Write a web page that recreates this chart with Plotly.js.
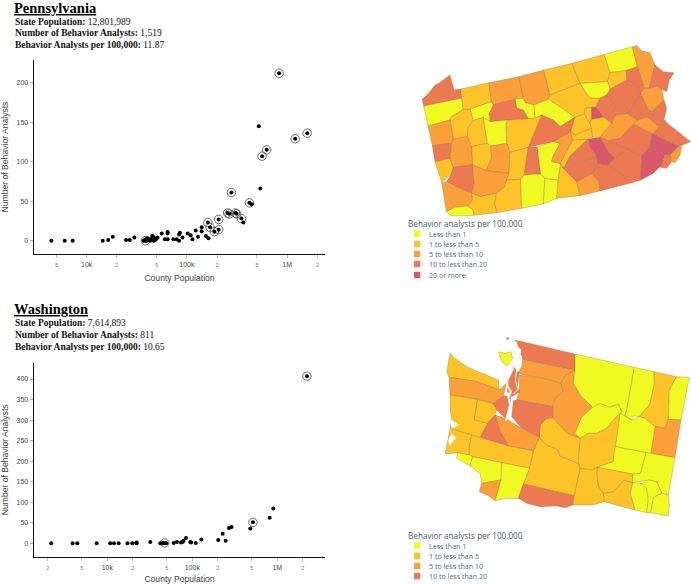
<!DOCTYPE html>
<html><head><meta charset="utf-8">
<script src="https://cdn.plot.ly/plotly-3.0.1.min.js"></script>
<style>html,body{margin:0;padding:0;background:#fff}#c{width:691px;height:584px}</style>
</head><body><div id="c"></div>
<script>
// ---------- scatter data ----------
const paPop=[4440,6030,7250,14440,16400,18200,24700,26900,29900,
37000,38000,38500,39000,39500,40000,40500,41000,42000,43000,44000,44500,45000,46000,46500,47000,48000,49000,50000,51000,
56100,60300,64200,64200,64200,73300,79100,83500,85000,83500,90200,102000,109000,113500,122500,129000,140500,140500,155000,164000,
162000,170000,188000,207500,207500,255000,265000,278000,305000,314000,350000,366000,420000,444000,521000,540000,562000,625000,832000,1203000,1585000];
const paCount=[0,0,0,0,1,5,1,1,4,
0,1,0,2,1,0,3,1,2,0,2,1,6,5,0,3,1,2,3,4,
9,2,9,11,2,2,2,8,10,0,4,9,7,2,13,5,12,17,6,3,
23,17,11.5,14,27,35,34,61,35,34,28,23,48,46,145,66,107,115,212,129,136];
const paRingPop=[38500,162000,170000,188000,207500,207500,255000,265000,278000,305000,314000,350000,420000,562000,625000,832000,1203000,1585000];
const paRingCount=[0,23,17,11.5,14,27,35,34,61,35,34,28,48,107,115,212,129,136];
const waPop=[2190,3910,4440,7500,10840,12000,13600,17300,19700,22100,22100,32100,42100,44400,46000,47300,49400,60300,66000,73600,77000,79000,84200,94700,97000,109800,127700,202000,227500,246800,270000,290000,481000,517000,813000,897000,2234000];
const waCount=[0,0,0,0,0,0,0,0,0,0,2,3,0,0,1,1,0,1,3,2,3,6,13,3,2,1,9,8,23,6,37,40,36,51,62,85,407];
const waRingPop=[47300,517000,2234000];
const waRingCount=[1,51,407];
const paXTicks=[5000,10000,20000,50000,100000,200000,500000,1000000,2000000];
const waXTicks=[2000,5000,10000,20000,50000,100000,200000,500000,1000000,2000000];
const paXMajor=['5','10k','2','5','100k','2','5','1M','2'];
const waXMajor=['2','5','10k','2','5','100k','2','5','1M','2'];
const paYTicks=[0,50,100,150,200];
const waYTicks=[0,50,100,150,200,250,300,350,400];
const legendLabels=['Less than 1','1 to less than 5','5 to less than 10','10 to less than 20','20 or more'];
const classColors=['#f0f921','#fdc328','#fb9f3a','#ed7953','#d8576b'];

// ---------- county polygons: [rate class, x,y, x,y, ...] in map units ----------
const paCounties=[
[3,66,208,84,192,105,165,116,160,150,135,162,180,182,177,185,205,71,228],
[0,71,228,185,205,190,238,152,262,150,270,84,288],
[1,182,177,267,158,274,215,210,238,190,238,185,205],
[2,267,158,357,140,370,205,345,207,280,225,274,215],
[2,357,140,431,120,450,195,445,208,402,225,375,218,370,205],
[1,431,120,516,100,540,160,450,195],
[1,516,100,613,73,630,128,623,155,540,160],
[0,613,73,697,50,712,110,678,122,630,128],
[2,697,50,710,47,725,62,750,68,765,105,748,175,733,175,712,110],
[3,765,105,790,125,822,128,808,150,800,185,785,178,770,168,748,175],
[3,678,122,712,110,733,175,722,190,703,160,680,150],
[1,630,128,678,122,680,150,630,178,623,155],
[0,540,160,623,155,630,178,620,195,600,205,570,205,555,185],
[1,450,195,540,160,555,185,570,205,600,205,588,232,575,232,555,235,553,252,525,262,468,222,445,208],
[0,345,207,370,205,375,218,402,225,405,265,385,267,370,240,350,235],
[0,402,225,445,208,468,222,525,262,480,290,460,270,425,255,405,265],
[3,280,225,345,207,350,235,370,240,385,267,322,270,270,275,267,250],
[0,210,238,274,215,280,225,267,250,270,275,250,262,220,272],
[1,152,262,190,238,210,238,220,272,205,292,202,320,160,327,150,270],
[2,84,288,150,270,160,327,155,340,97,347],
[3,97,347,155,340,150,385,105,396],
[1,105,396,150,385,160,412,155,430,125,458],
[2,155,340,160,327,202,320,215,350,218,405,160,412,150,385],
[1,205,292,220,272,250,262,262,340,215,350,202,320],
[0,250,262,270,275,322,270,318,285,320,340,272,348,262,340],
[1,322,270,385,267,405,265,425,255,412,288,385,352,330,367,320,340,318,285],
[3,412,288,425,255,460,270,480,290,525,262,512,305,505,310,460,335,385,352],
[1,215,350,262,340,272,348,275,385,258,422,218,405],
[2,272,348,320,340,330,367,327,430,258,422,275,385],
[3,160,412,218,405,222,460,215,490,180,475,140,455,155,430],
[2,218,405,258,422,327,430,315,470,290,490,240,500,215,490,222,460],
[2,125,458,140,455,180,475,215,490,218,510,204,528,164,532,139,545],
[0,139,545,164,532,204,528,219,540,222,556,152,558],
[1,218,510,215,490,240,500,290,490,284,520,291,548,222,556,219,540,204,528],
[1,330,367,385,352,372,435,362,448,320,450,327,430],
[1,290,490,315,470,320,450,362,448,365,535,291,548,284,520],
[0,372,435,395,432,422,432,435,445,430,522,365,535,362,448],
[0,435,445,475,450,470,505,430,522],
[3,385,352,412,350,418,400,422,432,395,432,372,435],
[0,412,350,460,335,480,340,460,378,455,395,482,400,475,450,435,445,422,432,418,400],
[2,460,378,480,340,460,335,505,310,512,305,518,330,482,400,455,395],
[1,482,400,518,330,565,327,510,378,495,408,487,412],
[1,487,412,530,455,540,497,470,505,475,450,482,400],
[2,530,455,575,430,597,455,600,483,540,497],
[3,575,430,595,400,625,405,655,425,695,458,600,483,597,455],
[3,487,412,525,400,590,378,595,400,575,430,530,455],
[3,495,408,510,378,565,327,570,350,590,378,525,400],
[4,565,327,600,322,625,365,645,385,625,405,595,400,590,378,570,350],
[3,625,405,645,385,680,355,725,378,722,450,695,458,655,425],
[1,525,262,553,252,570,280,575,295,525,315,512,305],
[1,512,305,525,315,575,295,578,322,565,327,518,330],
[1,555,235,575,232,575,268,570,280,553,252],
[4,575,232,588,232,612,262,575,268],
[3,600,205,620,195,650,230,640,245,645,255,635,280,612,262,588,232],
[1,575,268,612,262,635,280,600,322,578,322,575,295,570,280],
[2,600,322,635,280,645,255,682,250,712,270,700,283,660,325,625,332],
[3,620,195,630,178,680,150,703,160,722,190,690,245,682,250,645,255,640,245,650,230],
[3,682,250,690,245,722,190,745,240,712,270],
[2,712,270,740,260,778,290,757,312,700,283],
[3,757,312,778,290,800,278,872,335,835,350],
[3,625,332,660,325,700,283,757,312,750,350,725,378,680,355],
[3,600,322,625,332,680,355,645,385,625,365],
[2,722,190,733,175,748,175,770,168,785,178,792,210,757,245,745,240],
[3,745,240,757,245,792,210,800,235,792,268,800,278,778,290,740,260,712,270],
[4,757,312,835,350,810,375,795,372,750,350],
[4,722,450,725,378,750,350,795,372,785,405,760,430],
[3,795,372,810,375,815,395,800,415,780,412,785,405],
[2,835,350,845,350,840,375,825,398,815,395,810,375]
];
const waCounties=[
[3,345,30,525,72,525,120,450,105,370,90,360,85,365,60,350,45],
[0,295,65,315,70,333,65,338,85,322,108,308,98,300,82],
[3,320,23,326,23,326,28,320,28],
[2,362,90,450,105,525,120,495,138,483,160,430,145,370,135,355,128,365,110],
[2,358,135,430,145,483,160,490,185,465,205,458,230,350,210,358,185],
[2,483,160,495,138,525,120,520,160,545,200,578,232,545,262,525,310,540,325,500,310,458,262,458,230,465,205,490,185],
[0,525,72,703,112,680,240,675,258,660,250,665,245,655,222,630,232,600,220,578,232,545,200,520,160,525,120],
[0,703,112,762,125,763,160,750,222,718,260,700,258,695,270,675,258,680,240],
[1,762,125,830,140,808,180,805,268,795,295,765,290,735,265,718,260,750,222,763,160],
[0,830,140,868,143,843,270,805,268,808,180],
[2,805,268,843,270,825,383,752,370,765,290,795,295],
[0,660,250,675,258,695,270,718,260,735,265,765,290,752,370,645,350],
[0,578,232,600,220,630,232,655,222,665,245,660,250,640,270,620,295,590,310,565,310,540,325,525,310,545,262],
[1,660,250,645,350,640,395,592,412,575,420,540,415,535,400,535,385,540,325,565,310,590,310,620,295,640,270],
[0,645,350,738,368,722,430,695,432,592,412,640,395],
[0,738,368,752,370,825,383,805,495,785,490,770,455,745,450,698,458,697,432,722,430],
[0,698,458,725,460,740,475,745,510,740,548,705,540,690,490],
[0,725,460,745,450,770,455,785,490,765,500,760,505,752,548,740,548,745,510,740,475],
[0,765,500,785,490,805,495,808,525,805,558,752,548,760,505],
[1,610,490,640,485,672,450,698,458,690,490,705,540,612,515],
[1,592,412,697,432,698,458,672,450,640,485,610,490,595,470,590,430],
[1,540,415,575,420,592,412,590,430,595,470,610,490,612,515,580,525,518,525,522,497],
[1,418,322,440,345,475,360,480,378,535,400,540,415,522,497,370,462,388,415,400,362],
[1,418,322,420,285,440,265,458,262,500,310,540,325,535,385,535,400,480,378,475,360,440,345],
[3,350,210,458,230,458,262,440,265,420,285,418,322,365,295,335,260,340,212],
[2,285,255,315,265,340,280,365,295,418,322,400,362,325,348,300,305],
[3,262,280,285,255,300,305,325,348,240,322],
[1,232,208,280,220,290,240,285,255,262,280,222,270],
[3,280,220,310,198,332,200,330,225,320,268,290,240],
[1,150,70,165,85,200,110,260,135,295,150,298,180,232,155,147,142,140,125],
[2,147,142,232,155,298,180,320,158,310,198,280,220,232,208,150,195],
[1,150,195,232,208,222,270,262,280,240,322,150,295,155,270,150,235],
[1,150,295,215,315,208,350,208,375,172,368,135,372,140,350,145,315],
[1,215,315,240,322,325,348,400,362,388,415,305,398,218,380,208,375,208,350],
[0,172,368,208,375,218,380,210,408,195,400,170,385],
[0,218,380,305,398,303,450,245,460,240,430,210,408],
[2,245,460,303,450,285,512,262,495,238,485],
[0,305,398,388,415,370,462,355,505,322,505,285,512,303,450],
[3,370,462,522,497,518,525,495,533,470,528,420,530,380,520,355,505],
[3,322,150,340,112,358,125,352,170,360,185,335,200,322,185]
];
const waWaterStrokes=[
[340,115,322,150,322,168,333,185,325,200,330,225,322,255,318,272],
[350,120,346,150,354,178,340,192],
[348,35,352,65,363,80,363,105,348,110,355,125]
];
const waBays=[[150,268,176,285,155,295],[155,313,168,323,150,345,145,330]];

// ---------- layout constants ----------
const W=691,H=584;
const fx=p=>p/W, fy=p=>1-p/H;
const serif='"Liberation Serif",serif', sans='"Liberation Sans",Arial,sans-serif', ui='"Open Sans",sans-serif';
const traces=[];
function scatter(xa,ya,x,y,ringX,ringY){
  traces.push({type:'scatter',mode:'markers',xaxis:xa,yaxis:ya,x:ringX,y:ringY,hoverinfo:'skip',
    marker:{symbol:'circle-open',size:8.5,color:'#444',line:{width:0.8,color:'#444'}}});
  traces.push({type:'scatter',mode:'markers',xaxis:xa,yaxis:ya,x:x,y:y,hoverinfo:'x+y',
    marker:{symbol:'circle',size:4,color:'#000'}});
}
function map(xa,ya,polys){
  polys.forEach(p=>{
    const x=[],y=[];
    for(let i=1;i<p.length;i+=2){x.push(p[i]);y.push(p[i+1]);}
    x.push(p[1]);y.push(p[2]);
    traces.push({type:'scatter',mode:'lines',xaxis:xa,yaxis:ya,x,y,fill:'toself',fillcolor:classColors[p[0]],
      line:{color:'rgba(120,100,70,0.6)',width:0.5},hoverinfo:'skip'});
  });
}
scatter('x','y',paPop,paCount,paRingPop,paRingCount);
scatter('x2','y2',waPop,waCount,waRingPop,waRingCount);
map('x3','y3',paCounties);
map('x4','y4',waCounties);
waWaterStrokes.forEach((s,i)=>{
  const x=[],y=[];for(let k=0;k<s.length;k+=2){x.push(s[k]);y.push(s[k+1]);}
  traces.push({type:'scatter',mode:'lines',xaxis:'x4',yaxis:'y4',x,y,line:{color:'#fff',width:i==1?1:1.8},hoverinfo:'skip'});
});
waBays.forEach(s=>{
  const x=[],y=[];for(let k=0;k<s.length;k+=2){x.push(s[k]);y.push(s[k+1]);}
  traces.push({type:'scatter',mode:'lines',xaxis:'x4',yaxis:'y4',x,y,fill:'toself',fillcolor:'#fff',line:{color:'#fff',width:0.5},hoverinfo:'skip'});
});

const minor=t=>/^\d$/.test(t)?'<span style="font-size:5.5px;color:#777">'+t+'</span>':t;
function xAxis(range,vals,text,anchor){
  return {type:'log',range,domain:[fx(34),fx(325)],anchor,tickmode:'array',tickvals:vals,ticktext:text.map(minor),
    ticks:'outside',ticklen:3,tickwidth:0.7,tickcolor:'#999',showgrid:false,zeroline:false,showline:true,linecolor:'#111',linewidth:1.4,
    tickfont:{family:sans,size:7,color:'#444'},title:{text:'County Population',font:{family:sans,size:8.6,color:'#444'},standoff:8}};
}
function yAxis(range,vals,anchor,top,bottom){
  return {range,domain:[fy(bottom),fy(top)],anchor,tickmode:'array',tickvals:vals,
    ticks:'outside',ticklen:3,tickwidth:0.7,tickcolor:'#999',showgrid:false,zeroline:false,showline:true,linecolor:'#111',linewidth:1.4,
    tickfont:{family:sans,size:7,color:'#444'},title:{text:'Number of Behavior Analysts',font:{family:sans,size:8.6,color:'#444'},standoff:7}};
}
const hidden=(range,domain,anchor)=>({range,domain,anchor,visible:false,fixedrange:true});

const annotations=[];
function txt(text,px,py,font,extra){
  annotations.push(Object.assign({xref:'paper',yref:'paper',x:fx(px),y:fy(py),text,showarrow:false,xanchor:'left',yanchor:'middle',align:'left',font,borderpad:0},extra||{}));
}
function header(name,pop,num,rate,ys){
  txt('<u><b>'+name+'</b></u>',13,ys[0],{family:serif,size:14.5,color:'#000'});
  const f={family:serif,size:9.5,color:'#111'};
  txt('<b>State Population:</b> '+pop,13.5,ys[1],f);
  txt('<b>Number of Behavior Analysts:</b> '+num,13.5,ys[2],f);
  txt('<b>Behavior Analysts per 100,000:</b> '+rate,13.5,ys[3],f);
}
header('Pennsylvania','12,801,989','1,519','11.87',[8,21.7,32.7,45]);
header('Washington','7,614,893','811','10.65',[309,323.3,334.7,347]);
const shapes=[];
function legend(titleY,itemYs,labels){
  txt('Behavior analysts per 100,000',407,titleY,{family:ui,size:8.2,color:'#4a5a70'});
  labels.forEach((l,i)=>{
    txt(l,427.5,itemYs[i],{family:ui,size:7.1,color:'#506784'});
    shapes.push({type:'rect',xref:'paper',yref:'paper',x0:fx(414),x1:fx(420.3),y0:fy(itemYs[i]+3.2),y1:fy(itemYs[i]-3.2),fillcolor:classColors[i],line:{width:0}});
  });
}
legend(223,[233.7,244,254,264,275],legendLabels);
legend(535,[545.5,556,566,576],legendLabels.slice(0,4));

const layout={width:W,height:H,margin:{l:0,r:0,t:0,b:0},paper_bgcolor:'#fff',plot_bgcolor:'rgba(0,0,0,0)',showlegend:false,
  xaxis:xAxis([3.474,6.378],paXTicks,paXMajor,'y'),
  yaxis:yAxis([-16.8,228.7],paYTicks,'x',60,254),
  xaxis2:xAxis([3.138,6.561],waXTicks,waXMajor,'y2'),
  yaxis2:yAxis([-32.6,439],waYTicks,'x2',363,556.7),
  xaxis3:hidden([0,873],[fx(400),1],'y3'),
  yaxis3:hidden([558,0],[fy(216),fy(30)],'x3'),
  xaxis4:hidden([0,873],[fx(400),1],'y4'),
  yaxis4:hidden([570,0],[fy(520),fy(330)],'x4'),
  annotations,shapes};
Plotly.newPlot('c',traces,layout,{staticPlot:true,displayModeBar:false});
</script></body></html>
